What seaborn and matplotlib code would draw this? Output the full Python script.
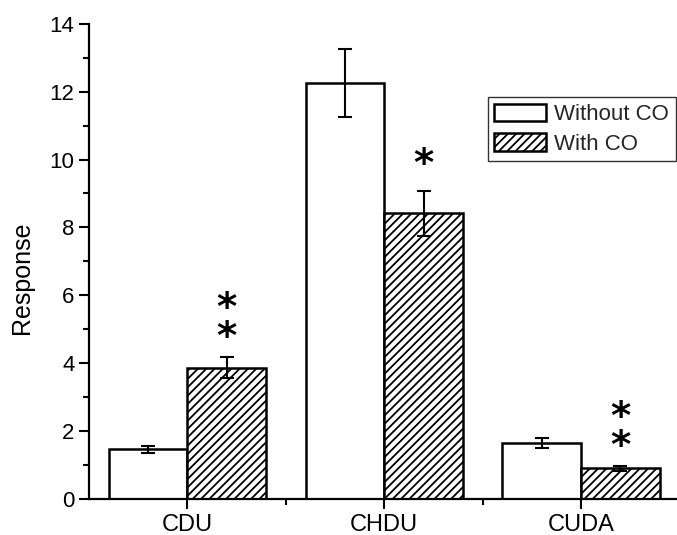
import matplotlib
matplotlib.use("Agg")
import matplotlib.pyplot as plt
import seaborn as sns
import pandas as pd
from matplotlib.ticker import MultipleLocator, FixedLocator

sns.set_theme(style="ticks")
plt.rcParams['font.family'] = ['Liberation Sans', 'DejaVu Sans']
plt.rcParams['hatch.linewidth'] = 1.3
plt.rcParams['hatch.color'] = 'black'

categories = ["CDU", "CHDU", "CUDA"]
groups = ["Without CO", "With CO"]
without_co = [1.46, 12.26, 1.64]
with_co = [3.87, 8.41, 0.90]
without_err = [0.10, 1.00, 0.15]
with_err = [0.31, 0.66, 0.07]
# significance marks: (category, group, y position of each star)
star_cat = ["CDU", "CDU", "CHDU", "CUDA", "CUDA"]
star_grp = ["With CO"] * 5
star_y = [4.74, 5.60, 9.84, 1.54, 2.39]

df = pd.DataFrame({
    "Category": categories * 2,
    "Group": [groups[0]] * 3 + [groups[1]] * 3,
    "Response": without_co + with_co,
})

fig = plt.figure(figsize=(6.77, 5.35), dpi=100)
ax = fig.add_axes([89 / 677, 36 / 535, (677 - 89) / 677, (499 - 23.7) / 535])

sns.barplot(data=df, x="Category", y="Response", hue="Group",
            hue_order=groups, order=categories, errorbar=None,
            palette=["white", "white"], edgecolor="black", linewidth=1.8,
            width=0.8, ax=ax, legend=True)

errs = {groups[0]: without_err, groups[1]: with_err}
centers = {}
for container, g in zip(ax.containers, groups):
    for i, bar in enumerate(container):
        cx = bar.get_x() + bar.get_width() / 2
        centers[(categories[i], g)] = cx
        if g == "With CO":
            bar.set_hatch("////")
        ax.errorbar(cx, bar.get_height(), yerr=errs[g][i], fmt="none",
                    ecolor="black", elinewidth=1.5, capsize=5, capthick=1.5,
                    zorder=5)

for c, g, y in zip(star_cat, star_grp, star_y):
    ax.text(centers[(c, g)], y, "*", ha="center", va="center",
            fontsize=28, fontweight="bold", color="black",
            fontfamily="DejaVu Sans")

ax.set_ylim(0, 14)
ax.set_xlim(-0.5, (677 - 187) / 197)
ax.yaxis.set_major_locator(MultipleLocator(2))
ax.yaxis.set_minor_locator(MultipleLocator(1))
ax.xaxis.set_minor_locator(FixedLocator([0.5, 1.5]))
ax.tick_params(axis="both", which="major", direction="out", length=7,
               width=1.5, labelsize=16, color="black", labelcolor="black")
ax.tick_params(axis="both", which="minor", direction="out", length=4,
               width=1.5, color="black")
ax.tick_params(axis="x", labelsize=17, pad=4)
ax.set_xlabel("")
ax.set_ylabel("Response", fontsize=18, color="black")
ax.yaxis.set_label_coords(-0.094, 0.465)
for s in ["top", "right"]:
    ax.spines[s].set_visible(False)
for s in ["left", "bottom"]:
    ax.spines[s].set_color("black")
    ax.spines[s].set_linewidth(1.6)

leg = ax.legend(loc="upper right", bbox_to_anchor=(676 / 677, 1 - 97 / 535),
                bbox_transform=fig.transFigure, fontsize=16, frameon=True,
                fancybox=False, edgecolor="black", handlelength=2.3,
                handleheight=0.85, labelspacing=0.35, handletextpad=0.4,
                borderpad=0.3, borderaxespad=0)
leg.get_frame().set_linewidth(1.0)
for h in leg.legend_handles:
    h.set_edgecolor("black")
    h.set_linewidth(1.8)
leg.legend_handles[1].set_hatch("////")

fig.savefig("out.png", dpi=100)
